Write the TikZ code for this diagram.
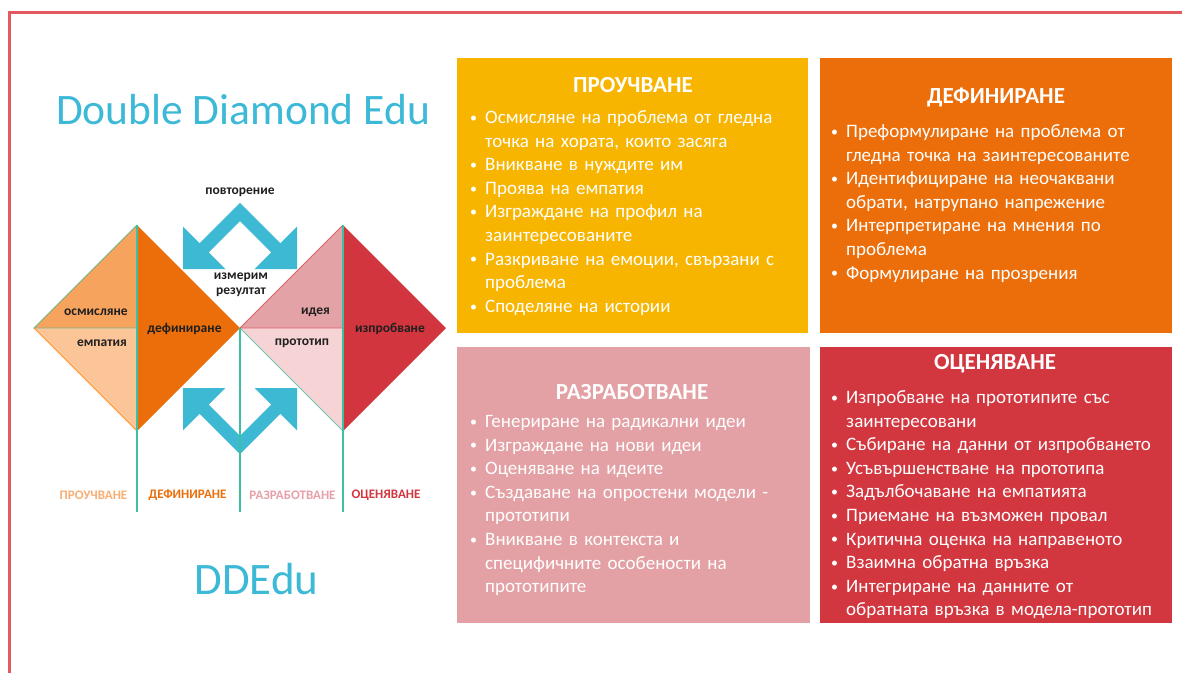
\documentclass[tikz,border=0pt]{standalone}
\usepackage{fontspec}
\setmainfont{Carlito}
\definecolor{framered}{HTML}{E25A60}
\definecolor{titleblue}{HTML}{3CB9D6}
\definecolor{arrowblue}{HTML}{3DB9D3}
\definecolor{teal}{HTML}{3CBFA2}
\definecolor{orlight}{HTML}{F6A35E}
\definecolor{orpale}{HTML}{FBC597}
\definecolor{ordark}{HTML}{EC6E0A}
\definecolor{pkmid}{HTML}{E3A2A6}
\definecolor{pkpale}{HTML}{F6D3D5}
\definecolor{rddark}{HTML}{D2353E}
\definecolor{boxyellow}{HTML}{F7B500}
\definecolor{boxorange}{HTML}{EC6E0A}
\definecolor{boxpink}{HTML}{E3A1A5}
\definecolor{boxred}{HTML}{D2363F}
\definecolor{lblorange}{HTML}{F8AE72}
\definecolor{lblpink}{HTML}{E8A0A8}
% one bulleted entry with a hanging indent
\newcommand\bl[1]{\noindent\hangindent=15pt\hangafter=1%
  \makebox[15pt][l]{\raisebox{1.2pt}{\fontsize{14}{14}\selectfont\textbullet}}#1\par}
\tikzset{
  panel/.style={draw=none, inner sep=0, anchor=north west},
  paneltitle/.style={text=white, font=\fontsize{23}{26}\selectfont\bfseries, inner sep=0},
  paneltext/.style={text=white, font=\fontsize{19}{23.6}\selectfont, text width=345pt, inner sep=0, anchor=base west},
  dlabel/.style={text=black!88, font=\fontsize{13.5}{15}\selectfont\bfseries, inner sep=0},
  phase/.style={font=\fontsize{13}{14}\selectfont\bfseries, inner sep=0},
  vline/.style={teal, line width=2.4pt},
  chevron/.pic={
    \fill[arrowblue] (-57,-59.5) -- (-57,-101.9) -- (-40.4,-85.3) -- (0,-125.7)
      -- (40.4,-85.3) -- (57,-101.9) -- (57,-59.5) -- (14.6,-59.5) -- (31.2,-76.1)
      -- (0,-107.3) -- (-31.2,-76.1) -- (-14.6,-59.5) -- cycle;
  }
}
\begin{document}
\begin{tikzpicture}[x=1pt,y=-1pt]
\useasboundingbox (0,0) rectangle (1182,673);
\fill[white] (0,0) rectangle (1182,673);
% outer frame
\draw[framered, line width=3pt] (9.5,673) -- (9.5,12.5) -- (1182,12.5);

% titles
\node[text=titleblue, font=\fontsize{43.5}{46}\selectfont, inner sep=0] (title) at (243,110) {Double Diamond Edu};
\node[text=titleblue, font=\fontsize{45}{48}\selectfont, inner sep=0] (short) at (256.5,579) {DDEdu};

% first diamond
\coordinate (d1t) at (137,225);
\coordinate (d1l) at (34,328);
\coordinate (d1r) at (240,328);
\coordinate (d1b) at (137,431);
\coordinate (d1c) at (137,328);
\fill[orlight] (d1l) -- (d1t) -- (d1c) -- cycle;
\fill[orpale] (d1l) -- (d1c) -- (d1b) -- cycle;
\fill[ordark] (d1t) -- (d1r) -- (d1b) -- cycle;
\draw[teal!70!orlight, line width=0.8pt] (d1c) -- (d1l) -- (d1t);
\draw[orange!70!orpale, line width=0.8pt] (d1l) -- (d1b);

% second diamond
\coordinate (d2t) at (343,225);
\coordinate (d2l) at (240,328);
\coordinate (d2r) at (446,328);
\coordinate (d2b) at (343,431);
\coordinate (d2c) at (343,328);
\fill[pkmid] (d2l) -- (d2t) -- (d2c) -- cycle;
\fill[pkpale] (d2l) -- (d2c) -- (d2b) -- cycle;
\fill[rddark] (d2t) -- (d2r) -- (d2b) -- cycle;
\draw[rddark!60!pkmid, line width=0.8pt] (d2c) -- (d2l) -- (d2t);
\draw[teal!70!pkpale, line width=0.8pt] (d2l) -- (d2b);

% iteration arrows
\pic at (240,328.5) {chevron};
\pic[yscale=-1] at (240,328.5) {chevron};

% phase dividers
\coordinate (v1e) at (137,512);
\coordinate (v2e) at (240,512);
\coordinate (v3e) at (343,512);
\draw[vline] (d1t) -- (v1e);
\draw[vline] (d1r) -- (v2e);
\draw[vline] (d2t) -- (v3e);

% diamond labels
\node[dlabel] (rep) at (240,192) {повторение};
\node[dlabel, align=center, font=\fontsize{13.5}{15.5}\selectfont\bfseries] (meas) at (241,284.5) {измерим\\резултат};
\node[dlabel, anchor=east] (osm) at (128,312) {осмисляне};
\node[dlabel, anchor=east] (emp) at (127,343) {емпатия};
\node[dlabel] (def) at (184.5,329) {дефиниране};
\node[dlabel, anchor=east] (idea) at (330,312) {идея};
\node[dlabel] (proto) at (302,343) {прототип};
\node[dlabel] (test) at (390,329) {изпробване};

% phase names
\node[phase, text=lblorange] (p1) at (93.5,495) {ПРОУЧВАНЕ};
\node[phase, text=ordark] (p2) at (187.5,495) {ДЕФИНИРАНЕ};
\node[phase, text=lblpink] (p3) at (292.5,495) {РАЗРАБОТВАНЕ};
\node[phase, text=rddark] (p4) at (386,495) {ОЦЕНЯВАНЕ};

% panel: research
\node[panel, fill=boxyellow, minimum width=351pt, minimum height=275pt] (b1) at (457,58) {};
\node[paneltitle] (b1t) at (633,85) {ПРОУЧВАНЕ};
\node[paneltext] (b1l) at (470,123.5) {%
\bl{Осмисляне на проблема от гледна\newline точка на хората, които засяга}%
\bl{Вникване в нуждите им}%
\bl{Проява на емпатия}%
\bl{Изграждане на профил на\newline заинтересованите}%
\bl{Разкриване на емоции, свързани с\newline проблема}%
\bl{Споделяне на истории}};

% panel: definition
\node[panel, fill=boxorange, minimum width=352pt, minimum height=275pt] (b2) at (820,58) {};
\node[paneltitle] (b2t) at (996,97) {ДЕФИНИРАНЕ};
\node[paneltext] (b2l) at (831,137.5) {%
\bl{Преформулиране на проблема от\newline гледна точка на заинтересованите}%
\bl{Идентифициране на неочаквани\newline обрати, натрупано напрежение}%
\bl{Интерпретиране на мнения по\newline проблема}%
\bl{Формулиране на прозрения}};

% panel: development
\node[panel, fill=boxpink, minimum width=353pt, minimum height=276pt] (b3) at (457,347) {};
\node[paneltitle] (b3t) at (632,392) {РАЗРАБОТВАНЕ};
\node[paneltext] (b3l) at (470,427.5) {%
\bl{Генериране на радикални идеи}%
\bl{Изграждане на нови идеи}%
\bl{Оценяване на идеите}%
\bl{Създаване на опростени модели -\newline прототипи}%
\bl{Вникване в контекста и\newline специфичните особености на\newline прототипите}};

% panel: evaluation
\node[panel, fill=boxred, minimum width=352pt, minimum height=276pt] (b4) at (820,347) {};
\node[paneltitle] (b4t) at (995,364) {ОЦЕНЯВАНЕ};
\node[paneltext] (b4l) at (831,403.5) {%
\bl{Изпробване на прототипите със\newline заинтересовани}%
\bl{Събиране на данни от изпробването}%
\bl{Усъвършенстване на прототипа}%
\bl{Задълбочаване на емпатията}%
\bl{Приемане на възможен провал}%
\bl{Критична оценка на направеното}%
\bl{Взаимна обратна връзка}%
\bl{Интегриране на данните от\newline обратната връзка в модела-прототип}};
\end{tikzpicture}
\end{document}
